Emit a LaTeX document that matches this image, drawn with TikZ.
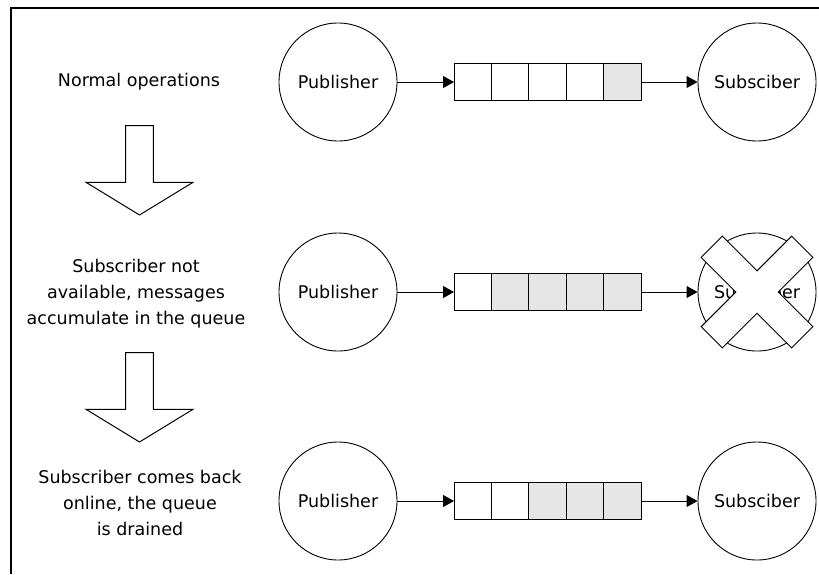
\documentclass[tikz,border=0pt]{standalone}
\usepackage{fontspec}
\setmainfont{DejaVu Sans}
\usetikzlibrary{arrows.meta, positioning}
\definecolor{msggray}{HTML}{E6E6E6}

\begin{document}
\begin{tikzpicture}[x=1pt, y=-1pt,
      node distance=0pt,
      every node/.style={font=\fontsize{17.5}{26}\selectfont},
      peer/.style={draw, circle, minimum size=118pt, inner sep=0pt, line width=0.9pt},
      cell/.style={draw, minimum size=37.4pt, inner sep=0pt, outer sep=0pt, line width=1pt},
      lab/.style={align=center},
      flow/.style={-{Triangle[length=11pt, width=12pt]}, line width=0.9pt},
      block/.style={draw, fill=white, line width=1pt}
    ]
    \useasboundingbox (0,0) rectangle (819,574);
    \draw[line width=1.5pt] (819,8) -- (11,8) -- (11,574);
    % stage labels
    \node[lab] (st1) at (139,82) {Normal operations};
    \node[lab] (st2) at (136,294) {Subscriber not\\available, messages\\accumulate in the queue};
    \node[lab] (st3) at (140,503) {Subscriber comes back\\online, the queue\\is drained};
    \foreach \t in {125.7, 352.7}
      \draw[block] (125.7,\t) -- ++(0,56.6) -- ++(-39.7,0) -- ++(53.5,32.7)
        -- ++(53.5,-32.7) -- ++(-39.7,0) -- ++(0,-56.6) -- cycle;
    % rows: number / height / first grey cell
    \foreach \r/\y/\g in {1/82/5, 2/292/2, 3/501/3} {
      \node[peer] (pub\r) at (338,\y) {Publisher};
      \node[peer] (sub\r) at (757,\y) {Subsciber};
      \node[cell, fill=white] (q\r1) at (472.7,\y) {};
      \foreach \c [remember=\c as \p (initially 1)] in {2,...,5} {
        \ifnum\c<\g \def\shade{white}\else\def\shade{msggray}\fi
        \node[cell, fill=\shade, right=of q\r\p] (q\r\c) {};
      }
      \draw[flow] (pub\r) -- (q\r1);
      \draw[flow] (q\r5) -- (sub\r);
    }
    % subscriber down
    \begin{scope}[shift={(sub2.center)}, rotate=45]
      \draw[block] (64,15) -- (15,15) -- (15,64) -- (-15,64) -- (-15,15) -- (-64,15)
        -- (-64,-15) -- (-15,-15) -- (-15,-64) -- (15,-64) -- (15,-15) -- (64,-15) -- cycle;
    \end{scope}
  \end{tikzpicture}
\end{document}
